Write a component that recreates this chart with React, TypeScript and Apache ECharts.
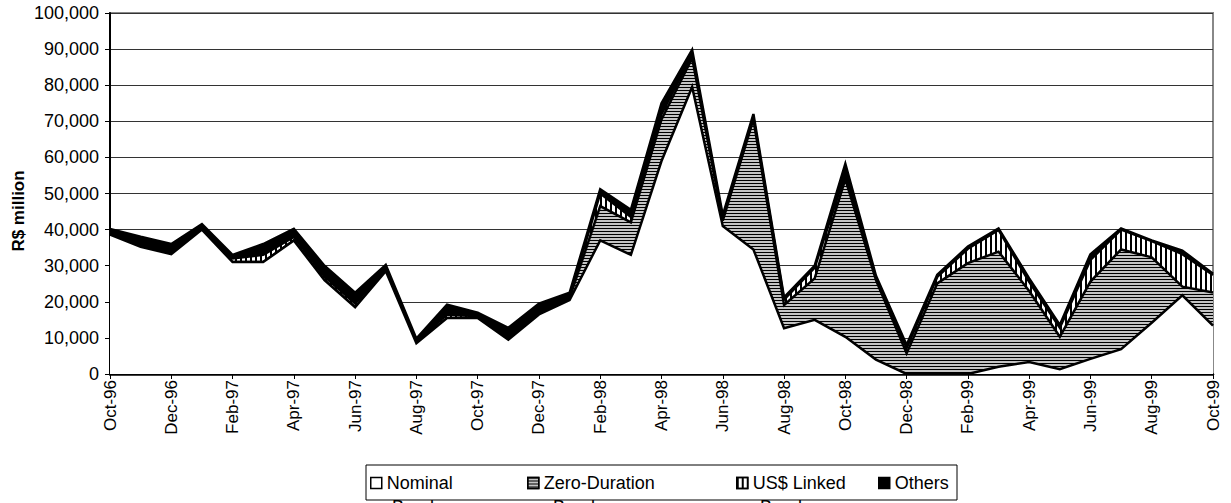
import React, { useEffect, useRef } from 'react';
import * as echarts from 'echarts';

const months = [
  'Oct-96', 'Nov-96', 'Dec-96', 'Jan-97', 'Feb-97', 'Mar-97', 'Apr-97', 'May-97', 'Jun-97', 'Jul-97',
  'Aug-97', 'Sep-97', 'Oct-97', 'Nov-97', 'Dec-97', 'Jan-98', 'Feb-98', 'Mar-98', 'Apr-98', 'May-98',
  'Jun-98', 'Jul-98', 'Aug-98', 'Sep-98', 'Oct-98', 'Nov-98', 'Dec-98', 'Jan-99', 'Feb-99', 'Mar-99',
  'Apr-99', 'May-99', 'Jun-99', 'Jul-99', 'Aug-99', 'Sep-99', 'Oct-99',
];

const nominal = [
  38600, 35200, 33200, 40000, 31000, 31000, 37000, 26000, 18500, 28500,
  8500, 15500, 15500, 9500, 16500, 20500, 37000, 33000, 59000, 79500,
  41000, 34500, 12700, 15000, 10300, 4000, 0, 0, 0, 2000,
  3300, 1300, 4200, 6900, 14200, 21800, 13400,
];

const zeroDuration = [
  0, 0, 0, 0, 0, 0, 0, 0, 0, 0,
  0, 0, 0, 0, 0, 500, 9500, 9000, 11500, 8000,
  1500, 36000, 6400, 11500, 43700, 22000, 5700, 25100, 30700, 31900,
  19700, 9000, 21400, 27600, 18100, 2400, 9200,
];

const usLinked = [
  500, 500, 500, 300, 1000, 2000, 1000, 1000, 1000, 500,
  300, 1000, 500, 500, 500, 500, 3500, 1500, 1500, 1000,
  500, 500, 1500, 3000, 1500, 500, 1500, 1800, 4000, 6000,
  2500, 2500, 6000, 5500, 4500, 9000, 4800,
];

const others = [
  1100, 2300, 2300, 1200, 1000, 3000, 2200, 3000, 3000, 1200,
  1000, 2700, 1000, 2800, 2500, 1000, 1200, 2000, 3000, 1300,
  1000, 1000, 600, 500, 2700, 700, 800, 600, 600, 400,
  1000, 800, 1600, 300, 200, 1000, 400,
];

const seriesNames = ['Nominal', 'Zero-Duration', 'US$ Linked', 'Others'];
const FONT = '"Liberation Sans", Arial, sans-serif';

const hDecal = {
  symbol: 'rect',
  symbolSize: 1,
  color: '#000',
  dashArrayX: [[1, 0]],
  dashArrayY: [1, 2],
};
const vDecal = {
  symbol: 'rect',
  symbolSize: 1,
  color: '#000',
  dashArrayX: [[2, 3]],
  dashArrayY: [1, 0],
};

export default function App() {
  const ref = useRef<HTMLDivElement>(null);

  useEffect(() => {
    if (!ref.current) return;
    const chart = echarts.init(ref.current, null, { renderer: 'svg' });

    const fills = ['#ffffff', '#c4c4c4', '#ffffff', '#000000'];
    const decals: any[] = [null, hDecal, vDecal, null];
    const datasets = [nominal, zeroDuration, usLinked, others];

    const series = seriesNames.map((name, i) => ({
      name,
      type: 'line',
      stack: 'total',
      data: datasets[i],
      symbol: 'none',
      z: 10 - i,
      itemStyle: decals[i] ? { color: fills[i], decal: decals[i] } : { color: fills[i] },
      lineStyle: { color: '#000', width: 2.5, join: 'miter', miterLimit: 10 },
      areaStyle: { color: fills[i], opacity: 1 },
      emphasis: { disabled: true },
    }));

    const legendLefts = [370, 527, 736, 878];
    const legends = seriesNames.map((name, i) => ({
      data: [
        {
          name,
          icon: 'rect',
          itemStyle: decals[i]
            ? { color: fills[i], borderColor: '#000', borderWidth: 1.5, decal: decals[i] }
            : { color: fills[i], borderColor: '#000', borderWidth: 1.5 },
        },
      ],
      left: legendLefts[i],
      top: 473,
      padding: 0,
      itemWidth: 11,
      itemHeight: 11,
      selectedMode: false,
      textStyle: { fontSize: 18, fontFamily: FONT, color: '#000', lineHeight: 20 },
    }));

    chart.setOption({
      animation: false,
      backgroundColor: '#fff',
      grid: {
        left: 110,
        right: 18,
        top: 13,
        bottom: 129,
        show: true,
        borderColor: '#888',
        borderWidth: 2,
        backgroundColor: 'transparent',
      },
      legend: legends,
      xAxis: {
        type: 'category',
        data: months,
        boundaryGap: false,
        axisLine: { lineStyle: { color: '#000', width: 2.5 } },
        axisTick: { show: true, interval: 1, length: 5, lineStyle: { color: '#000', width: 1 } },
        axisLabel: {
          interval: 1,
          rotate: 90,
          fontSize: 17,
          fontFamily: FONT,
          color: '#000',
          margin: 6,
        },
        splitLine: { show: false },
      },
      yAxis: {
        type: 'value',
        min: 0,
        max: 100000,
        interval: 10000,
        axisLine: { show: true, lineStyle: { color: '#000', width: 2 } },
        axisTick: { show: true, length: 5, lineStyle: { color: '#000', width: 1 } },
        axisLabel: {
          fontSize: 18,
          fontFamily: FONT,
          color: '#000',
          margin: 11,
          formatter: (v: number) => v.toLocaleString('en-US'),
        },
        splitLine: { show: true, lineStyle: { color: '#333', width: 1 } },
      },
      graphic: [
        {
          type: 'text',
          x: 18,
          y: 211,
          rotation: Math.PI / 2,
          style: {
            text: 'R$ million',
            font: `bold 17px ${FONT}`,
            fill: '#000',
            align: 'center',
            verticalAlign: 'middle',
          },
        },
        {
          type: 'rect',
          shape: { x: 366, y: 465, width: 591, height: 35 },
          style: { fill: 'none', stroke: '#000', lineWidth: 1 },
          z: 0,
        },
        {
          type: 'text',
          x: 392,
          y: 498,
          style: { text: 'Bonds', font: `18px ${FONT}`, fill: '#000' },
        },
        {
          type: 'text',
          x: 553,
          y: 498,
          style: { text: 'Bonds', font: `18px ${FONT}`, fill: '#000' },
        },
        {
          type: 'text',
          x: 760,
          y: 498,
          style: { text: 'Bonds', font: `18px ${FONT}`, fill: '#000' },
        },
      ],
      series,
    });

    return () => chart.dispose();
  }, []);

  return (
    <div
      ref={ref}
      style={{ position: 'fixed', left: 0, top: 0, width: 1231, height: 503, background: '#fff' }}
    />
  );
}
